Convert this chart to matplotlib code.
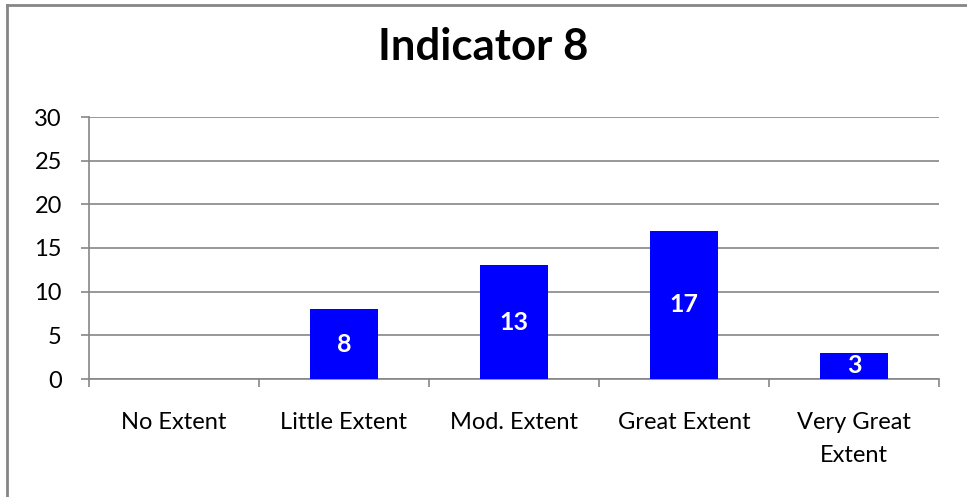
import matplotlib
matplotlib.use("Agg")
import matplotlib.pyplot as plt
from matplotlib.lines import Line2D

categories = ["No Extent", "Little Extent", "Mod. Extent", "Great Extent", "Very Great\nExtent"]
values = [0, 8, 13, 17, 3]
yticks = [0, 5, 10, 15, 20, 25, 30]
title = "Indicator 8"

plt.rcParams['font.family'] = ['Lato', 'DejaVu Sans']

W, H = 967, 497
fig = plt.figure(figsize=(W / 100, H / 100), dpi=100)
ax = fig.add_axes([89 / W, 1 - 379 / H, (939 - 89) / W, (379 - 117) / H])

grey = "#868686"
fs = 17
x = list(range(len(categories)))
bars = ax.bar(x, values, width=0.4, color="#0000FF", zorder=3)
for xi, v in zip(x, values):
    if v > 0:
        ax.text(xi, v / 2, str(v), ha="center", va="center", color="white",
                fontsize=18, fontweight="bold", zorder=4)

ax.set_xlim(-0.5, len(categories) - 0.5)
ax.set_ylim(0, 30)
ax.set_yticks(yticks)
ax.set_yticklabels([str(t) for t in yticks], fontsize=fs)
ax.set_xticks(x)
ax.set_xticklabels(categories, fontsize=fs, linespacing=1.7)
ax.tick_params(axis="x", length=0, pad=24)
ax.tick_params(axis="y", length=6, color=grey, width=1.2, pad=13.5)
# category boundary ticks
ax.set_xticks([i - 0.5 for i in range(len(categories) + 1)], minor=True)
ax.tick_params(axis="x", which="minor", length=6, color=grey, width=1.2)

ax.grid(axis="y", color=grey, linewidth=1.2, zorder=0)
for s in ["top", "right"]:
    ax.spines[s].set_visible(False)
for s in ["left", "bottom"]:
    ax.spines[s].set_color(grey)
    ax.spines[s].set_linewidth(1.2)

fig.text(0.5, 1 - 47 / H, title, ha="center", va="center", fontsize=31.5, fontweight="bold")

# outer chart border (left and top visible)
fig.add_artist(Line2D([6.5 / W, 6.5 / W], [0, 1 - 4.5 / H], transform=fig.transFigure,
                      color=grey, linewidth=2))
fig.add_artist(Line2D([6.5 / W, 1], [1 - 4.5 / H, 1 - 4.5 / H], transform=fig.transFigure,
                      color=grey, linewidth=2))

fig.savefig("out.png", dpi=100)
